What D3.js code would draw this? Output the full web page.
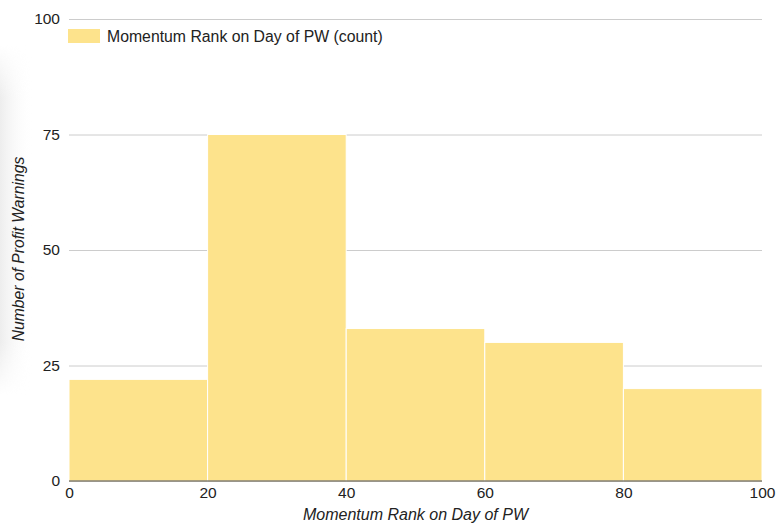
<!DOCTYPE html>
<html>
<head>
<meta charset="utf-8">
<script src="https://cdn.jsdelivr.net/npm/d3@7"></script>
<style>
  html, body { margin: 0; padding: 0; background: #fff; }
  svg { display: block; font-family: "Liberation Sans", Arial, Helvetica, sans-serif; }
</style>
</head>
<body>
<svg id="chart" width="777" height="523"></svg>
<script>
// Histogram bins (lower edge, upper edge) and counts
const binStarts = [0, 20, 40, 60, 80];
const binEnds = [20, 40, 60, 80, 100];
const counts = [22, 75, 33, 30, 20];
const xTicks = [0, 20, 40, 60, 80, 100];
const yTicks = [0, 25, 50, 75, 100];
const seriesName = "Momentum Rank on Day of PW (count)";
const xTitle = "Momentum Rank on Day of PW";
const yTitle = "Number of Profit Warnings";

const W = 777, H = 523;
const margin = { left: 69, right: 15, top: 19, bottom: 42 };
const svg = d3.select("#chart");

// soft shadow along the left edge
const defs = svg.append("defs");
const grad = defs.append("linearGradient").attr("id", "edgeShade")
  .attr("x1", "0").attr("x2", "1").attr("y1", "0").attr("y2", "0");
grad.append("stop").attr("offset", "0").attr("stop-color", "#ededed").attr("stop-opacity", 1);
grad.append("stop").attr("offset", "1").attr("stop-color", "#ffffff").attr("stop-opacity", 0);
const vgrad = defs.append("linearGradient").attr("id", "edgeMask")
  .attr("x1", "0").attr("x2", "0").attr("y1", "0").attr("y2", "1");
vgrad.append("stop").attr("offset", "0").attr("stop-color", "#fff").attr("stop-opacity", 0);
vgrad.append("stop").attr("offset", "0.15").attr("stop-color", "#fff").attr("stop-opacity", 1);
vgrad.append("stop").attr("offset", "0.85").attr("stop-color", "#fff").attr("stop-opacity", 1);
vgrad.append("stop").attr("offset", "1").attr("stop-color", "#fff").attr("stop-opacity", 0);
const mask = defs.append("mask").attr("id", "edgeFade");
mask.append("rect").attr("x", 0).attr("y", 45).attr("width", 34).attr("height", 350)
  .attr("fill", "url(#edgeMask)");
svg.append("rect").attr("x", 0).attr("y", 45).attr("width", 34).attr("height", 350)
  .attr("fill", "url(#edgeShade)").attr("mask", "url(#edgeFade)");

const x = d3.scaleLinear().domain([0, 100]).range([margin.left, W - margin.right]);
const y = d3.scaleLinear().domain([0, 100]).range([H - margin.bottom, margin.top]);

// horizontal gridlines
const yAxis = d3.axisLeft(y).tickValues(yTicks).tickSize(-(x.range()[1] - x.range()[0]))
  .tickPadding(9).tickFormat(d3.format("d"));
const gy = svg.append("g").attr("transform", `translate(${margin.left},0)`).call(yAxis);
gy.select(".domain").remove();
gy.selectAll(".tick line").attr("stroke", "#cccccc").attr("stroke-width", 1);
gy.selectAll(".tick text").attr("fill", "#222").style("font-size", "15.5px");

// bars
const bins = counts.map((c, i) => ({ x0: binStarts[i], x1: binEnds[i], count: c }));
svg.append("g").selectAll("rect").data(bins).join("rect")
  .attr("x", d => x(d.x0))
  .attr("width", d => x(d.x1) - x(d.x0))
  .attr("y", d => y(d.count))
  .attr("height", d => y(0) - y(d.count))
  .attr("fill", "#fde38c")
  .attr("stroke", "#ffffff")
  .attr("stroke-width", 1);

// baseline
svg.append("line")
  .attr("x1", x(0)).attr("x2", x(100))
  .attr("y1", y(0)).attr("y2", y(0))
  .attr("stroke", "#4a4430").attr("stroke-width", 1.2);

// x axis labels
const xAxis = d3.axisBottom(x).tickValues(xTicks).tickSize(0).tickPadding(6).tickFormat(d3.format("d"));
const gx = svg.append("g").attr("transform", `translate(0,${y(0)})`).call(xAxis);
gx.select(".domain").remove();
gx.selectAll(".tick text").attr("fill", "#222").style("font-size", "15.5px");

// axis titles
svg.append("text")
  .attr("x", (x(0) + x(100)) / 2).attr("y", 520)
  .attr("text-anchor", "middle")
  .style("font-size", "16px").style("font-style", "italic").attr("fill", "#222")
  .text(xTitle);
svg.append("text")
  .attr("transform", `translate(24,${(y(0) + y(100)) / 2 - 1}) rotate(-90)`)
  .attr("text-anchor", "middle")
  .style("font-size", "15.7px").style("font-style", "italic").attr("fill", "#222")
  .text(yTitle);

// legend
const lg = svg.append("g").attr("transform", "translate(68,29)");
lg.append("rect").attr("width", 32).attr("height", 14).attr("fill", "#fde38c");
lg.append("text").attr("x", 39).attr("y", 12.5)
  .style("font-size", "15.8px").attr("fill", "#222")
  .text(seriesName);
</script>
</body>
</html>
